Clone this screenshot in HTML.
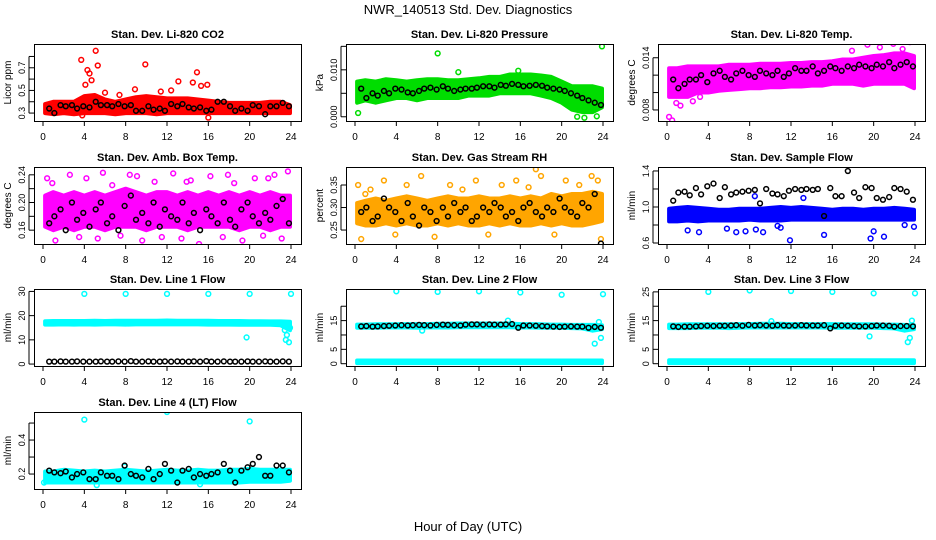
<!DOCTYPE html>
<html><head><meta charset="utf-8">
<style>
body{margin:0;background:#fff;}
svg{display:block;font-family:"Liberation Sans",Arial,sans-serif;}
</style></head>
<body>
<svg id="chart" width="936" height="540" viewBox="0 0 936 540" xmlns="http://www.w3.org/2000/svg">
<rect width="936" height="540" fill="#fff"/>
<text x="468" y="14" text-anchor="middle" font-size="13">NWR_140513  Std. Dev. Diagnostics</text>
<text x="468" y="531" text-anchor="middle" font-size="13">Hour of Day (UTC)</text>
</svg>
<script>
const xTicks=[0,4,8,12,16,20,24];
const bandX=[0,1,2,3,4,5,6,7,8,9,10,11,12,13,14,15,16,17,18,19,20,21,22,23,24];
const blkX=[0.6,1.1,1.7,2.2,2.8,3.3,3.9,4.5,5.1,5.6,6.2,6.7,7.3,7.9,8.5,9.0,9.6,10.2,10.7,11.3,11.8,12.4,13.0,13.5,14.1,14.6,15.2,15.8,16.3,16.9,17.5,18.1,18.6,19.2,19.8,20.3,20.9,21.5,22.0,22.6,23.2,23.8];

const co2Lo=[0.30,0.29,0.30,0.29,0.30,0.30,0.30,0.29,0.30,0.30,0.30,0.29,0.30,0.30,0.30,0.30,0.30,0.30,0.30,0.30,0.30,0.30,0.30,0.30,0.30];
const co2Hi=[0.38,0.40,0.40,0.40,0.45,0.46,0.42,0.40,0.42,0.44,0.45,0.44,0.43,0.43,0.43,0.42,0.41,0.40,0.39,0.39,0.39,0.39,0.40,0.40,0.37];
const co2OutX=[3.7,4.3,4.5,4.7,5.1,5.3,4.1,9.9,13.1,14.9,14.5,15.9,15.3,8.9,12.4,16.0,3.8,6.0,7.4,11.4];
const co2OutY=[0.77,0.68,0.65,0.59,0.85,0.72,0.55,0.73,0.58,0.66,0.57,0.55,0.54,0.51,0.50,0.26,0.28,0.48,0.46,0.49];
const co2Blk=[0.34,0.30,0.37,0.36,0.37,0.34,0.36,0.35,0.40,0.37,0.37,0.36,0.38,0.36,0.37,0.32,0.32,0.36,0.33,0.34,0.32,0.38,0.36,0.38,0.35,0.34,0.35,0.32,0.33,0.40,0.40,0.36,0.32,0.34,0.32,0.37,0.36,0.29,0.36,0.36,0.39,0.36];

const presLo=[0.003,0.0035,0.003,0.0035,0.004,0.004,0.0035,0.004,0.004,0.004,0.004,0.0045,0.0045,0.0045,0.005,0.005,0.005,0.005,0.0045,0.004,0.003,0.0015,0.001,0.001,0.002];
const presHi=[0.0075,0.0078,0.0075,0.008,0.0078,0.0075,0.0078,0.008,0.008,0.0078,0.0078,0.008,0.0082,0.0085,0.0085,0.009,0.009,0.009,0.0088,0.0085,0.0075,0.0065,0.0065,0.0065,0.006];
const presOutX=[8,23.9,0.3,21.5,22.2,23.4,10,15.8];
const presOutY=[0.0135,0.0150,0.0008,0.000,-0.0002,0.0001,0.0095,0.0098];
const presBlk=[0.006,0.004,0.005,0.0045,0.0055,0.005,0.006,0.0058,0.0052,0.005,0.0055,0.006,0.0062,0.0058,0.0065,0.006,0.0055,0.0058,0.006,0.006,0.0062,0.0065,0.0065,0.0062,0.0068,0.0066,0.007,0.0068,0.0065,0.0066,0.0068,0.0066,0.0062,0.006,0.0058,0.0055,0.005,0.0045,0.004,0.0035,0.003,0.0025];

const tempLo=[0.0095,0.0095,0.0095,0.010,0.010,0.0102,0.0103,0.0104,0.0105,0.0105,0.0106,0.0106,0.0107,0.0107,0.0108,0.0108,0.011,0.011,0.011,0.0108,0.011,0.011,0.011,0.011,0.0105];
const tempHi=[0.0128,0.0128,0.013,0.013,0.013,0.013,0.0132,0.0132,0.0132,0.0133,0.0133,0.0133,0.0134,0.0134,0.0135,0.0135,0.0136,0.0138,0.0138,0.014,0.0142,0.0143,0.0145,0.0145,0.0142];
const tempOutX=[0.2,0.5,0.9,1.3,19.4,21.9,23.5,22.8,20.6,2.5,3.2,17.9];
const tempOutY=[0.0072,0.0068,0.0088,0.0085,0.0155,0.0156,0.0158,0.0150,0.0152,0.0090,0.0095,0.0148];
const tempBlk=[0.0115,0.0105,0.011,0.0115,0.0115,0.012,0.0112,0.0122,0.0125,0.0118,0.0115,0.0122,0.0125,0.012,0.0118,0.0125,0.0122,0.012,0.0125,0.0118,0.0122,0.0128,0.0125,0.0125,0.013,0.0122,0.0125,0.013,0.0128,0.0125,0.013,0.0128,0.0132,0.013,0.0128,0.0132,0.013,0.0135,0.0128,0.0132,0.0135,0.013];

const ambLo=[0.165,0.16,0.165,0.16,0.165,0.165,0.16,0.165,0.165,0.165,0.16,0.165,0.165,0.165,0.16,0.165,0.165,0.165,0.165,0.16,0.165,0.165,0.16,0.165,0.165];
const ambHi=[0.21,0.215,0.21,0.215,0.21,0.215,0.21,0.215,0.22,0.215,0.21,0.215,0.215,0.21,0.215,0.21,0.215,0.21,0.215,0.21,0.215,0.21,0.215,0.21,0.21];
const ambOutX=[0.4,1.2,2.6,3.5,4.2,5.3,6.7,7.5,8.4,9.6,10.8,11.5,12.6,13.4,14.3,15.1,16.2,17.4,18.5,19.3,20.5,21.3,22.4,23.1,23.7,0.9,5.8,9.1,13.9,17.9,21.8];
const ambOutY=[0.235,0.145,0.24,0.15,0.235,0.148,0.225,0.152,0.24,0.145,0.23,0.15,0.242,0.148,0.232,0.14,0.238,0.15,0.228,0.145,0.235,0.152,0.24,0.148,0.245,0.228,0.243,0.238,0.23,0.24,0.235];
const ambBlk=[0.17,0.18,0.19,0.16,0.2,0.175,0.185,0.165,0.19,0.2,0.17,0.18,0.16,0.195,0.21,0.175,0.185,0.17,0.2,0.165,0.19,0.18,0.175,0.2,0.17,0.185,0.16,0.19,0.18,0.17,0.2,0.175,0.165,0.19,0.2,0.18,0.17,0.185,0.175,0.195,0.205,0.17];

const rhLo=[0.265,0.26,0.26,0.265,0.26,0.265,0.26,0.26,0.265,0.26,0.265,0.26,0.26,0.265,0.26,0.265,0.26,0.26,0.265,0.26,0.265,0.26,0.26,0.265,0.27];
const rhHi=[0.31,0.315,0.32,0.315,0.32,0.325,0.32,0.315,0.32,0.325,0.32,0.32,0.325,0.32,0.32,0.325,0.32,0.325,0.32,0.33,0.325,0.33,0.33,0.335,0.33];
const rhOutX=[0.3,0.6,1.5,2.8,3.9,5.0,6.4,7.7,9.2,10.4,11.7,12.9,14.2,15.6,16.8,18.0,19.3,20.4,21.7,22.9,23.5,23.8,1.0,17.5];
const rhOutY=[0.35,0.23,0.34,0.36,0.24,0.35,0.37,0.235,0.35,0.34,0.36,0.24,0.35,0.36,0.345,0.37,0.24,0.36,0.35,0.37,0.36,0.23,0.33,0.385];
const rhBlk=[0.29,0.3,0.27,0.28,0.32,0.3,0.29,0.27,0.31,0.28,0.26,0.3,0.29,0.27,0.3,0.28,0.31,0.29,0.3,0.27,0.28,0.3,0.29,0.31,0.3,0.28,0.29,0.27,0.3,0.31,0.29,0.28,0.3,0.29,0.32,0.3,0.29,0.28,0.31,0.3,0.33,0.22];

const sfLo=[0.84,0.84,0.85,0.84,0.85,0.85,0.85,0.85,0.86,0.85,0.85,0.85,0.86,0.86,0.86,0.86,0.86,0.86,0.86,0.86,0.86,0.86,0.86,0.86,0.86];
const sfHi=[0.98,0.99,1.0,0.99,0.98,0.97,0.97,0.98,0.98,0.98,0.99,1.0,0.99,1.0,0.99,0.98,0.97,0.98,0.98,0.97,0.98,0.98,0.99,0.98,0.97];
const sfOutX=[2.0,3.1,5.8,6.7,7.6,8.6,9.3,11.0,11.9,15.2,19.7,20.0,21.0,23.0,23.9,13.2,8.5,10.7];
const sfOutY=[0.74,0.72,0.76,0.72,0.73,0.75,0.72,0.77,0.63,0.69,0.65,0.73,0.67,0.8,0.78,1.1,1.12,0.79];
const sfBlk=[1.07,1.16,1.17,1.13,1.21,1.14,1.23,1.26,1.1,1.22,1.14,1.16,1.17,1.18,1.19,1.04,1.2,1.15,1.14,1.12,1.18,1.2,1.19,1.2,1.19,1.2,0.9,1.21,1.12,1.12,1.4,1.16,1.1,1.22,1.21,1.1,1.08,1.11,1.21,1.2,1.17,1.08];

const l1Lo=[16.3,16.3,16.4,16.3,16.4,16.3,16.4,16.4,16.3,16.4,16.4,16.4,16.4,16.4,16.4,16.4,16.3,16.3,16.3,16.2,16.2,16.2,16.2,16.0,14.0];
const l1Hi=[17.7,17.8,17.8,17.8,17.8,17.9,17.8,17.9,17.9,17.9,17.9,17.9,18.0,17.9,17.9,17.9,17.9,17.8,17.8,17.8,17.7,17.7,17.6,17.6,17.5];
const l1OutX=[4,8,12,16,20,24,19.7,23.4,23.6,23.8,23.9,23.5];
const l1OutY=[29,29,29,29,29,29,11,14,12,9,15,10];
const l1Blk=[1.0,1.0,1.1,1.0,1.0,1.1,1.0,1.0,1.0,1.1,1.0,1.0,1.1,1.0,1.2,1.0,1.0,1.1,1.0,1.0,1.1,1.0,1.1,1.0,1.0,1.1,1.0,1.2,1.0,1.0,1.1,1.0,1.0,1.0,1.1,1.0,1.0,1.1,1.0,1.0,1.1,1.0];

const l2LoA=[0.2,0.2,0.2,0.2,0.2,0.2,0.2,0.2,0.2,0.2,0.2,0.2,0.2,0.2,0.2,0.2,0.2,0.2,0.2,0.2,0.2,0.2,0.2,0.2,0.2];
const l2HiA=[1.1,1.1,1.1,1.1,1.1,1.1,1.1,1.1,1.1,1.1,1.1,1.1,1.1,1.1,1.1,1.1,1.1,1.1,1.1,1.1,1.1,1.1,1.1,1.1,1.1];
const l2LoB=[12.5,12.5,12.5,12.6,12.6,12.6,12.5,12.6,12.6,12.6,12.7,12.7,12.7,12.7,12.7,12.7,12.6,12.6,12.5,12.5,12.5,12.4,12.3,11.5,12.0];
const l2HiB=[13.6,13.6,13.7,13.7,13.7,13.8,13.8,13.8,13.9,13.9,14.0,14.0,14.0,14.0,14.0,14.0,13.8,13.8,13.7,13.6,13.6,13.5,13.5,13.5,13.4];
const l2OutX=[4,8,12,16,20,24,23.2,23.8,23.6,6.5,14.8];
const l2OutY=[25.2,25,25.2,24.8,24,24.2,7,9,14.5,11.5,15];
const l2Blk=[13.0,13.1,12.9,13.0,13.1,13.2,13.3,13.4,13.3,13.4,13.5,13.4,13.3,13.5,13.6,13.5,13.4,13.3,13.6,13.7,13.7,13.6,13.7,13.6,13.6,13.7,13.8,12.5,13.3,13.3,13.2,13.1,13.0,12.9,12.8,12.9,13.0,12.9,12.9,12.5,12.8,12.5];

const l3LoA=[0.2,0.2,0.2,0.2,0.2,0.2,0.2,0.2,0.2,0.2,0.2,0.2,0.2,0.2,0.2,0.2,0.2,0.2,0.2,0.2,0.2,0.2,0.2,0.2,0.2];
const l3HiA=[1.2,1.2,1.2,1.2,1.2,1.2,1.2,1.2,1.2,1.2,1.2,1.2,1.2,1.2,1.2,1.2,1.2,1.2,1.2,1.2,1.2,1.2,1.2,1.2,1.2];
const l3LoB=[12.4,12.4,12.4,12.5,12.5,12.5,12.4,12.5,12.6,12.6,12.6,12.6,12.6,12.6,12.6,12.6,12.5,12.5,12.5,12.5,12.5,12.4,12.3,11.5,12.0];
const l3HiB=[13.6,13.6,13.7,13.7,13.7,13.7,13.7,13.8,13.8,13.9,13.9,13.9,13.8,13.8,13.8,13.8,13.8,13.7,13.7,13.7,13.7,13.6,13.6,13.5,13.4];
const l3OutX=[4,8,12,16,20,24,19.6,23.3,23.5,23.7,10.1];
const l3OutY=[25,25.5,25.3,25,24.5,24.5,9.5,7.5,9,15,14.8];
const l3Blk=[13.0,12.8,12.9,12.9,13.0,13.1,13.2,13.1,13.2,13.2,13.3,13.4,13.2,13.5,13.3,13.4,13.3,13.2,13.4,13.3,13.2,13.3,13.4,13.3,13.3,13.3,13.4,12.3,13.2,13.3,13.2,13.1,13.0,13.0,13.1,13.3,13.3,13.2,12.9,13.1,13.1,13.0];

const l4Lo=[0.15,0.15,0.15,0.15,0.15,0.15,0.15,0.15,0.15,0.15,0.15,0.15,0.15,0.15,0.15,0.15,0.15,0.15,0.15,0.15,0.155,0.155,0.155,0.155,0.16];
const l4Hi=[0.215,0.215,0.225,0.22,0.215,0.22,0.215,0.22,0.225,0.22,0.215,0.22,0.225,0.22,0.22,0.225,0.22,0.22,0.225,0.225,0.23,0.225,0.225,0.225,0.225];
const l4OutX=[4,12,20,5.2,15.2,0.1,7.9];
const l4OutY=[0.52,0.565,0.51,0.135,0.14,0.15,0.245];
const l4Blk=[0.22,0.21,0.205,0.215,0.18,0.2,0.21,0.17,0.17,0.21,0.19,0.19,0.17,0.25,0.2,0.19,0.18,0.23,0.17,0.2,0.26,0.22,0.15,0.22,0.23,0.18,0.2,0.19,0.2,0.21,0.26,0.22,0.15,0.22,0.24,0.26,0.3,0.19,0.19,0.25,0.25,0.21];

const panels=[
 {name:'li820-co2',title:'Stan. Dev. Li-820 CO2',yl:'Licor ppm',col:0,row:0,ymin:0.23,ymax:0.91,ticks:[0.3,0.4,0.5,0.6,0.7,0.8],labels:['0.3','','0.5','','0.7',''],color:'#ff0000',bands:[[co2Lo,co2Hi]],ox:co2OutX,oy:co2OutY,blk:co2Blk},
 {name:'li820-pressure',title:'Stan. Dev. Li-820 Pressure',yl:'kPa',col:1,row:0,ymin:-0.0009,ymax:0.0155,ticks:[0,0.005,0.010,0.015],labels:['0.000','','0.010',''],color:'#00dd00',bands:[[presLo,presHi]],ox:presOutX,oy:presOutY,blk:presBlk},
 {name:'li820-temp',title:'Stan. Dev. Li-820 Temp.',yl:'degrees C',col:2,row:0,ymin:0.00673,ymax:0.01558,ticks:[0.008,0.010,0.012,0.014],labels:['0.008','','','0.014'],color:'#ff00ff',bands:[[tempLo,tempHi]],ox:tempOutX,oy:tempOutY,blk:tempBlk},
 {name:'amb-box-temp',title:'Stan. Dev. Amb. Box Temp.',yl:'degrees C',col:0,row:1,ymin:0.14,ymax:0.2513,ticks:[0.16,0.18,0.20,0.22,0.24],labels:['0.16','','0.20','','0.24'],color:'#ff00ff',bands:[[ambLo,ambHi]],ox:ambOutX,oy:ambOutY,blk:ambBlk},
 {name:'gas-stream-rh',title:'Stan. Dev. Gas Stream RH',yl:'percent',col:1,row:1,ymin:0.219,ymax:0.39,ticks:[0.25,0.30,0.35],labels:['0.25','0.30','0.35'],color:'#ffa500',bands:[[rhLo,rhHi]],ox:rhOutX,oy:rhOutY,blk:rhBlk},
 {name:'sample-flow',title:'Stan. Dev. Sample Flow',yl:'ml/min',col:2,row:1,ymin:0.589,ymax:1.444,ticks:[0.6,0.8,1.0,1.2,1.4],labels:['0.6','','1.0','','1.4'],color:'#0000ff',bands:[[sfLo,sfHi]],ox:sfOutX,oy:sfOutY,blk:sfBlk},
 {name:'line1-flow',title:'Stan. Dev. Line 1 Flow',yl:'ml/min',col:0,row:2,ymin:-0.8,ymax:31,ticks:[0,10,20,30],labels:['0','10','20','30'],color:'#00ffff',bands:[[l1Lo,l1Hi]],ox:l1OutX,oy:l1OutY,blk:l1Blk},
 {name:'line2-flow',title:'Stan. Dev. Line 2 Flow',yl:'ml/min',col:1,row:2,ymin:-0.8,ymax:26,ticks:[0,5,10,15,20],labels:['0','5','','15',''],color:'#00ffff',bands:[[l2LoA,l2HiA],[l2LoB,l2HiB]],ox:l2OutX,oy:l2OutY,blk:l2Blk},
 {name:'line3-flow',title:'Stan. Dev. Line 3 Flow',yl:'ml/min',col:2,row:2,ymin:-0.8,ymax:26,ticks:[0,5,10,15,20,25],labels:['0','5','','15','','25'],color:'#00ffff',bands:[[l3LoA,l3HiA],[l3LoB,l3HiB]],ox:l3OutX,oy:l3OutY,blk:l3Blk},
 {name:'line4-flow',title:'Stan. Dev. Line 4 (LT) Flow',yl:'ml/min',col:0,row:3,ymin:0.112,ymax:0.565,ticks:[0.2,0.3,0.4,0.5],labels:['0.2','','0.4',''],color:'#00ffff',bands:[[l4Lo,l4Hi]],ox:l4OutX,oy:l4OutY,blk:l4Blk}
];

const NS='http://www.w3.org/2000/svg';
const svg=document.getElementById('chart');
function mk(tag,attrs,parent){const e=document.createElementNS(NS,tag);for(const k in attrs)e.setAttribute(k,attrs[k]);(parent||svg).appendChild(e);return e;}
const colLeft=[34,346,658], rowTop=[44,167,289,412], W=267, H=77;

panels.forEach(p=>{
  const L=colLeft[p.col], T=rowTop[p.row];
  const g=mk('g',{});
  
  
  const xs=h=>L+9+h*(248/24);
  const ys=v=>T+H-(v-p.ymin)/(p.ymax-p.ymin)*H;
  const clip=mk('clipPath',{id:'c'+p.name},g);
  mk('rect',{x:L,y:T,width:W,height:H},clip);
  const plot=mk('g',{'clip-path':'url(#c'+p.name+')'},g);
  p.bands.forEach(b=>{
    const lo=b[0],hi=b[1];
    let d='';
    bandX.forEach((h,i)=>{const hx=Math.min(Math.max(h,0.2),23.9);d+=(i?'L':'M')+xs(hx).toFixed(1)+' '+ys(hi[i]).toFixed(1);});
    for(let i=bandX.length-1;i>=0;i--){const hx=Math.min(Math.max(bandX[i],0.2),23.9);d+='L'+xs(hx).toFixed(1)+' '+ys(lo[i]).toFixed(1);}
    const path=mk('path',{d:d+'Z',fill:p.color,stroke:p.color,'stroke-width':4,'stroke-linejoin':'round'},plot);
    
    
  });
  p.ox.forEach((h,i)=>{
    const c=mk('circle',{cx:xs(h),cy:ys(p.oy[i]),r:2.4,fill:'none',stroke:p.color,'stroke-width':1.5},plot);
    
    
  });
  blkX.forEach((h,i)=>{
    const c=mk('circle',{cx:xs(h),cy:ys(p.blk[i]),r:2.4,fill:'none',stroke:'#000','stroke-width':1.5},plot);
    
    
  });
  const box=mk('rect',{x:L+0.5,y:T+0.5,width:W,height:H,fill:'none',stroke:'#000','stroke-width':1},g);
  
  
  mk('line',{x1:xs(0),x2:xs(24),y1:T+H+0.5,y2:T+H+0.5,stroke:'#000'},g);
  xTicks.forEach(t=>{
    mk('line',{x1:xs(t),x2:xs(t),y1:T+H,y2:T+H+5,stroke:'#000'},g);
    const tx=mk('text',{x:xs(t),y:T+H+19,'text-anchor':'middle','font-size':10},g);
    tx.textContent=t;
    
    
  });
  mk('line',{x1:L-5,x2:L-5,y1:ys(p.ticks[0]),y2:ys(p.ticks[p.ticks.length-1]),stroke:'#000'},g);
  p.ticks.forEach((t,i)=>{
    const y=ys(t);
    mk('line',{x1:L-5,x2:L,y1:y,y2:y,stroke:'#000'},g);
    if(p.labels[i]){
      const tx=mk('text',{x:L-9,y:y,'text-anchor':'middle','font-size':9,transform:'rotate(-90 '+(L-9)+' '+y+')'},g);
      tx.textContent=p.labels[i];
      
      
    }
  });
  const yl=mk('text',{x:L-23,y:T+H/2,'text-anchor':'middle','font-size':10,transform:'rotate(-90 '+(L-23)+' '+(T+H/2)+')'},g);
  yl.textContent=p.yl;
  
  
  const ti=mk('text',{x:L+W/2,y:T-6,'text-anchor':'middle','font-size':11,'font-weight':'bold'},g);
  ti.textContent=p.title;
  
  
});
</script>
</body></html>
